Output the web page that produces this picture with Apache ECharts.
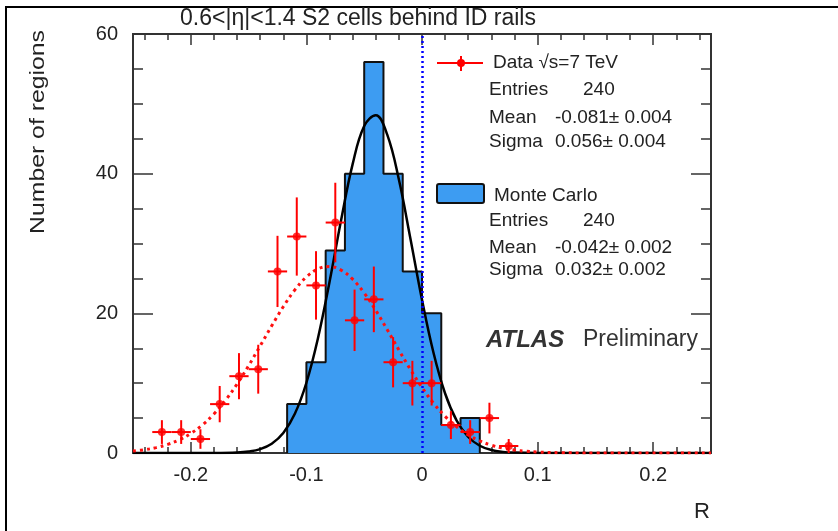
<!DOCTYPE html>
<html>
<head>
<meta charset="utf-8">
<script src="https://cdn.jsdelivr.net/npm/echarts@6/dist/echarts.min.js"></script>
<style>html,body{margin:0;padding:0;background:#fff;}#chart{width:838px;height:531px;}</style>
</head>
<body>
<div id="chart"></div>
<script>
// ---------- data ----------
const xMajorTicks = [-0.2, -0.1, 0, 0.1, 0.2];
const xMinorTicks = [-0.24, -0.22, -0.18, -0.16, -0.14, -0.12, -0.08, -0.06, -0.04, -0.02,
                     0.02, 0.04, 0.06, 0.08, 0.12, 0.14, 0.16, 0.18, 0.22, 0.24];

// Monte Carlo histogram (bin edges and counts)
const mcBinEdges = [-0.11667, -0.1, -0.08333, -0.06667, -0.05, -0.03333, -0.01667, 0, 0.01667, 0.03333, 0.05];
const mcCounts   = [7, 13, 29, 40, 56, 40, 26, 20, 4, 5];

// Data points (bin centres, counts, vertical errors, horizontal half-width)
const dataR      = [-0.225, -0.20833, -0.19167, -0.175, -0.15833, -0.14167, -0.125, -0.10833, -0.09167, -0.075,
                    -0.05833, -0.04167, -0.025, -0.00833, 0.00833, 0.025, 0.04167, 0.05833, 0.075];
const dataCounts = [3, 3, 2, 7, 11, 12, 26, 31, 24, 33, 19, 22, 13, 10, 10, 4, 3, 5, 1];
const dataErrY   = [1.7, 1.7, 1.4, 2.6, 3.3, 3.5, 5.1, 5.6, 4.9, 5.7, 4.4, 4.7, 3.6, 3.2, 3.2, 2.0, 1.7, 2.2, 1.0];
const dataErrX   = 0.00833;

// Fit curves
const mcFitR = [-0.25, -0.2, -0.18, -0.16, -0.15, -0.14, -0.13, -0.12, -0.11, -0.1, -0.09, -0.08, -0.07, -0.06, -0.05,
                -0.04, -0.03, -0.02, -0.01, 0, 0.01, 0.02, 0.03, 0.04, 0.05, 0.06, 0.07, 0.08, 0.1, 0.15, 0.25];
const mcFitY = [0, 0, 0.01, 0.08, 0.22, 0.56, 1.33, 2.86, 5.61, 10.06, 16.44, 24.5, 33.33, 41.36, 46.82,
                48.35, 45.55, 39.15, 30.69, 21.95, 14.32, 8.52, 4.63, 2.29, 1.04, 0.43, 0.16, 0.06, 0.01, 0, 0];

const dataFitR = [-0.25, -0.24, -0.23, -0.22, -0.21, -0.2, -0.19, -0.18, -0.17, -0.16, -0.15, -0.14, -0.13, -0.12,
                  -0.11, -0.1, -0.09, -0.08, -0.07, -0.06, -0.05, -0.04, -0.03, -0.02, -0.01, 0, 0.01, 0.02, 0.03,
                  0.04, 0.05, 0.06, 0.07, 0.08, 0.09, 0.1, 0.12, 0.15, 0.2, 0.25];
const dataFitY = [0.28, 0.47, 0.77, 1.23, 1.88, 2.79, 4.02, 5.59, 7.55, 9.87, 12.5, 15.33, 18.21, 20.95,
                  23.35, 25.21, 26.36, 26.7, 26.19, 24.89, 22.91, 20.43, 17.64, 14.75, 11.95, 9.38, 7.13, 5.25, 3.75,
                  2.59, 1.73, 1.12, 0.7, 0.43, 0.25, 0.14, 0.04, 0.005, 0, 0];

const titleText = '0.6<|\u03b7|<1.4 S2 cells behind ID rails';
const yTitle = 'Number of regions';
const xTitle = 'R';
const dataStats = { label: 'Data \u221as=7 TeV', entries: '240', mean: '-0.081\u00b1 0.004', sigma: '0.056\u00b1 0.004' };
const mcStats   = { label: 'Monte Carlo', entries: '240', mean: '-0.042\u00b1 0.002', sigma: '0.032\u00b1 0.002' };

// ---------- build ----------
const FONT = '"Liberation Sans", Arial, Helvetica, sans-serif';
const FRAME = '#333';

const histLine = [[mcBinEdges[0], 0]];
for (let i = 0; i < mcCounts.length; i++) {
  histLine.push([mcBinEdges[i], mcCounts[i]]);
  histLine.push([mcBinEdges[i + 1], mcCounts[i]]);
}
histLine.push([mcBinEdges[mcBinEdges.length - 1], 0]);

const errData = dataR.map((r, i) => [r, dataCounts[i], dataErrY[i], dataErrX]);
const ptData = dataR.map((r, i) => [r, dataCounts[i]]);
const mcFit = mcFitR.map((r, i) => [r, mcFitY[i]]);
const dataFit = dataFitR.map((r, i) => [r, dataFitY[i]]);

function xAxisDef(pos, ticks, len, labels) {
  return {
    type: 'value', min: -0.25, max: 0.25, position: pos,
    axisLine: { show: true, onZero: false, lineStyle: { color: FRAME, width: 2 } },
    axisTick: { show: true, inside: true, length: len, customValues: ticks, lineStyle: { color: FRAME, width: 1.5 } },
    axisLabel: labels ? {
      show: true, customValues: xMajorTicks, fontSize: 20, color: '#222', fontFamily: FONT, margin: 12,
      formatter: v => String(Math.round(v * 10) / 10)
    } : { show: false },
    splitLine: { show: false }
  };
}
function yAxisDef(pos, labels) {
  return {
    type: 'value', min: 0, max: 60, interval: 20, position: pos,
    axisLine: { show: true, onZero: false, lineStyle: { color: FRAME, width: 2 } },
    axisTick: { show: true, inside: true, length: 20, lineStyle: { color: FRAME, width: 1.5 } },
    minorTick: { show: true, splitNumber: 4, length: 10, lineStyle: { color: FRAME, width: 1.5 } },
    axisLabel: labels ? { show: true, fontSize: 20, color: '#222', fontFamily: FONT, margin: 15 } : { show: false },
    splitLine: { show: false }, minorSplitLine: { show: false }
  };
}

const T = (x, y, text, size, extra) => Object.assign({
  type: 'text', x: x, y: y, z: 100,
  style: Object.assign({ text: text, font: (size || 19) + 'px ' + FONT, fill: '#222', textVerticalAlign: 'middle', textAlign: 'left' }, extra || {})
});

const chart = echarts.init(document.getElementById('chart'), null, { renderer: 'canvas' });
chart.setOption({
  animation: false,
  backgroundColor: '#fff',
  grid: { left: 133, right: 127, top: 34, bottom: 78, containLabel: false },
  xAxis: [
    xAxisDef('bottom', xMajorTicks, 11, true),
    xAxisDef('top', xMajorTicks, 11, false),
    xAxisDef('bottom', xMinorTicks, 6, false),
    xAxisDef('top', xMinorTicks, 6, false)
  ],
  yAxis: [yAxisDef('left', true), yAxisDef('right', false)],
  series: [
    {
      type: 'line', name: 'Monte Carlo', data: histLine, xAxisIndex: 0, yAxisIndex: 0,
      showSymbol: false, symbol: 'none', z: 1,
      lineStyle: { color: '#111', width: 2 },
      areaStyle: { color: '#3d9cf2', opacity: 1, origin: 0 },
      markLine: {
        silent: true, symbol: 'none', label: { show: false },
        lineStyle: { color: '#0000ff', width: 2.5, type: [2, 3] },
        data: [{ xAxis: 0 }]
      }
    },
    {
      type: 'line', name: 'MC fit', data: mcFit, smooth: 0.4, showSymbol: false, symbol: 'none', z: 3,
      lineStyle: { color: '#000', width: 2.5 }
    },
    {
      type: 'line', name: 'Data fit', data: dataFit, smooth: 0.4, showSymbol: false, symbol: 'none', z: 4,
      lineStyle: { color: '#ff1010', width: 3, type: [3, 4] }
    },
    {
      type: 'custom', name: 'errors', data: errData, z: 5,
      encode: { x: 0, y: 1 },
      renderItem: function (params, api) {
        const x = api.value(0), y = api.value(1), ey = api.value(2), ex = api.value(3);
        const c = api.coord([x, y]);
        const t = api.coord([x, y + ey]);
        const b = api.coord([x, y - ey]);
        const l = api.coord([x - ex, y]);
        const r = api.coord([x + ex, y]);
        const st = { stroke: '#ff0000', lineWidth: 2 };
        return {
          type: 'group', children: [
            { type: 'line', shape: { x1: c[0], y1: t[1], x2: c[0], y2: b[1] }, style: st },
            { type: 'line', shape: { x1: l[0], y1: c[1], x2: r[0], y2: c[1] }, style: st }
          ]
        };
      }
    },
    {
      type: 'scatter', name: 'Data', data: ptData, symbol: 'circle', symbolSize: 8, z: 6,
      itemStyle: { color: '#ff0000' }
    }
  ],
  graphic: [
    // outer frame
    { type: 'polyline', z: 100, shape: { points: [[6, 531], [6, 7], [838, 7]] }, style: { stroke: '#000', lineWidth: 2, fill: null } },
    T(358, 19, titleText, 23, { textAlign: 'center' }),
    { type: 'text', x: 38, y: 132, rotation: Math.PI / 2, scaleX: 1.18, z: 100,
      style: { text: yTitle, font: '21px ' + FONT, fill: '#222', textAlign: 'center', textVerticalAlign: 'middle' } },
    T(702, 512, xTitle, 22, { textAlign: 'center' }),
    // data legend
    { type: 'line', z: 100, shape: { x1: 437, y1: 63, x2: 483, y2: 63 }, style: { stroke: '#ff0000', lineWidth: 2 } },
    { type: 'line', z: 100, shape: { x1: 461, y1: 56, x2: 461, y2: 71 }, style: { stroke: '#ff0000', lineWidth: 2 } },
    { type: 'circle', z: 100, shape: { cx: 461, cy: 63, r: 4 }, style: { fill: '#ff0000' } },
    T(493, 63, dataStats.label, 19),
    T(489, 90, 'Entries', 19), T(583, 90, dataStats.entries, 19),
    T(489, 118, 'Mean', 19), T(555, 118, dataStats.mean, 19),
    T(489, 142, 'Sigma', 19), T(555, 142, dataStats.sigma, 19),
    // MC legend
    { type: 'rect', z: 100, shape: { x: 437, y: 184, width: 47, height: 19, r: 2 }, style: { fill: '#3d9cf2', stroke: '#111', lineWidth: 2 } },
    T(494, 196, mcStats.label, 19),
    T(489, 221, 'Entries', 19), T(583, 221, mcStats.entries, 19),
    T(489, 248, 'Mean', 19), T(555, 248, mcStats.mean, 19),
    T(489, 270, 'Sigma', 19), T(555, 270, mcStats.sigma, 19),
    // ATLAS label
    T(486, 340, 'ATLAS', 24, { font: 'italic bold 24px ' + FONT, fill: '#333' }),
    T(583, 340, 'Preliminary', 23, { fill: '#333' })
  ]
});
</script>
</body>
</html>
